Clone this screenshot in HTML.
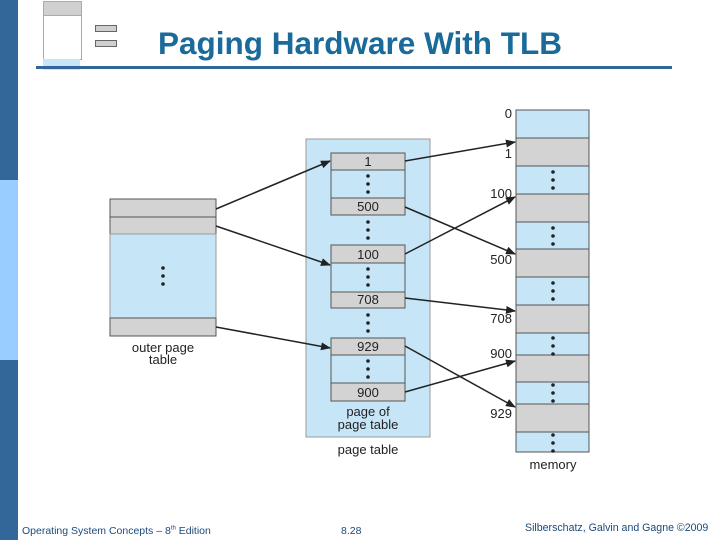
<!DOCTYPE html>
<html><head><style>
body{margin:0;width:720px;height:540px;background:#fff;position:relative;overflow:hidden;font-family:"Liberation Sans",sans-serif}
.a{position:absolute}
</style></head><body>
<div class="a" style="left:0;top:0;width:18px;height:540px;background:#336699"></div>
<div class="a" style="left:0;top:180px;width:18px;height:180px;background:#99ccff"></div>
<!-- thumbnail -->
<div class="a" style="left:43px;top:1px;width:37px;height:13px;background:#d0d0d0;border:1px solid #aaa"></div>
<div class="a" style="left:43px;top:14px;width:37px;height:45px;border:1px solid #aaa;border-top:none"></div>
<div class="a" style="left:43px;top:59px;width:37px;height:11px;background:#c8e6f8"></div>
<div class="a" style="left:95px;top:25px;width:20px;height:5px;background:#d0d0d0;border:1px solid #666"></div>
<div class="a" style="left:95px;top:40px;width:20px;height:5px;background:#d0d0d0;border:1px solid #666"></div>
<div class="a" style="left:36px;top:66px;width:636px;height:3px;background:#336699"></div>
<div class="a" style="left:140px;top:25px;width:440px;text-align:center;font-size:31.5px;font-weight:bold;color:#1a6a9a">Paging Hardware With TLB</div>
<svg class="a" style="left:0;top:0" width="720" height="540">
<defs><marker id="m" markerWidth="10" markerHeight="8" refX="9" refY="4" orient="auto" markerUnits="userSpaceOnUse"><path d="M0,0L10,4L0,8z" fill="#222"/></marker></defs>
<g stroke="#555" stroke-width="1">
<rect x="110" y="199" width="106" height="18" fill="#d3d3d3"/>
<rect x="110" y="217" width="106" height="17" fill="#d3d3d3"/>
<rect x="110" y="234" width="106" height="84" fill="#c6e6f8" stroke="#999"/>
<rect x="110" y="318" width="106" height="18" fill="#d3d3d3"/>
<rect x="306" y="139" width="124" height="298" fill="#c6e6f8" stroke="#999"/>
<rect x="331" y="153" width="74" height="17" fill="#d3d3d3"/>
<rect x="331" y="170" width="74" height="28" fill="#c6e6f8"/>
<rect x="331" y="198" width="74" height="17" fill="#d3d3d3"/>
<rect x="331" y="245" width="74" height="18" fill="#d3d3d3"/>
<rect x="331" y="263" width="74" height="29" fill="#c6e6f8"/>
<rect x="331" y="292" width="74" height="16" fill="#d3d3d3"/>
<rect x="331" y="338" width="74" height="17" fill="#d3d3d3"/>
<rect x="331" y="355" width="74" height="28" fill="#c6e6f8"/>
<rect x="331" y="383" width="74" height="18" fill="#d3d3d3"/>
<rect x="516" y="110" width="73" height="28" fill="#c6e6f8"/>
<rect x="516" y="138" width="73" height="28" fill="#d3d3d3"/>
<rect x="516" y="166" width="73" height="28" fill="#c6e6f8"/>
<rect x="516" y="194" width="73" height="28" fill="#d3d3d3"/>
<rect x="516" y="222" width="73" height="27" fill="#c6e6f8"/>
<rect x="516" y="249" width="73" height="28" fill="#d3d3d3"/>
<rect x="516" y="277" width="73" height="28" fill="#c6e6f8"/>
<rect x="516" y="305" width="73" height="28" fill="#d3d3d3"/>
<rect x="516" y="333" width="73" height="22" fill="#c6e6f8"/>
<rect x="516" y="355" width="73" height="27" fill="#d3d3d3"/>
<rect x="516" y="382" width="73" height="22" fill="#c6e6f8"/>
<rect x="516" y="404" width="73" height="28" fill="#d3d3d3"/>
<rect x="516" y="432" width="73" height="20" fill="#c6e6f8"/>
</g>
<g fill="#222">
<circle cx="163" cy="268" r="1.8"/><circle cx="163" cy="276" r="1.8"/><circle cx="163" cy="284" r="1.8"/>
<g id="d"><circle cx="368" cy="176" r="1.8"/><circle cx="368" cy="184" r="1.8"/><circle cx="368" cy="192" r="1.8"/></g>
<use href="#d" y="46"/><use href="#d" y="93"/><use href="#d" y="139"/><use href="#d" y="185"/>
<g id="e"><circle cx="553" cy="172" r="1.8"/><circle cx="553" cy="180" r="1.8"/><circle cx="553" cy="188" r="1.8"/></g>
<use href="#e" y="56"/><use href="#e" y="111"/><use href="#e" y="166"/><use href="#e" y="213"/><use href="#e" y="263"/>
</g>
<g stroke="#222" stroke-width="1.5" marker-end="url(#m)">
<line x1="216" y1="209" x2="330" y2="161"/>
<line x1="216" y1="226" x2="330" y2="265"/>
<line x1="216" y1="327" x2="330" y2="348"/>
<line x1="405" y1="161" x2="515" y2="142"/>
<line x1="405" y1="207" x2="515" y2="254"/>
<line x1="405" y1="254" x2="515" y2="197"/>
<line x1="405" y1="298" x2="515" y2="311"/>
<line x1="405" y1="346" x2="515" y2="407"/>
<line x1="405" y1="392" x2="515" y2="361"/>
</g>
<g font-size="13" fill="#222" text-anchor="middle">
<text x="368" y="166">1</text><text x="368" y="211">500</text><text x="368" y="259">100</text>
<text x="368" y="304">708</text><text x="368" y="351">929</text><text x="368" y="397">900</text>
<text x="368" y="416">page of</text><text x="368" y="429">page table</text>
<text x="368" y="454">page table</text>
<text x="163" y="352">outer page</text><text x="163" y="364">table</text>
<text x="553" y="469">memory</text>
</g>
<g font-size="13" fill="#222" text-anchor="end">
<text x="512" y="118">0</text><text x="512" y="158">1</text><text x="512" y="198">100</text>
<text x="512" y="264">500</text><text x="512" y="323">708</text><text x="512" y="358">900</text><text x="512" y="418">929</text>
</g>
</svg>
<div class="a" style="left:22px;top:525px;font-size:10.5px;color:#1a4a7a">Operating System Concepts – 8<sup style="font-size:6px">th</sup> Edition</div>
<div class="a" style="left:341px;top:525px;font-size:10.5px;color:#1a4a7a">8.28</div>
<div class="a" style="left:525px;top:522px;font-size:10.6px;color:#1a4a7a">Silberschatz, Galvin and Gagne ©2009</div>
</body></html>
